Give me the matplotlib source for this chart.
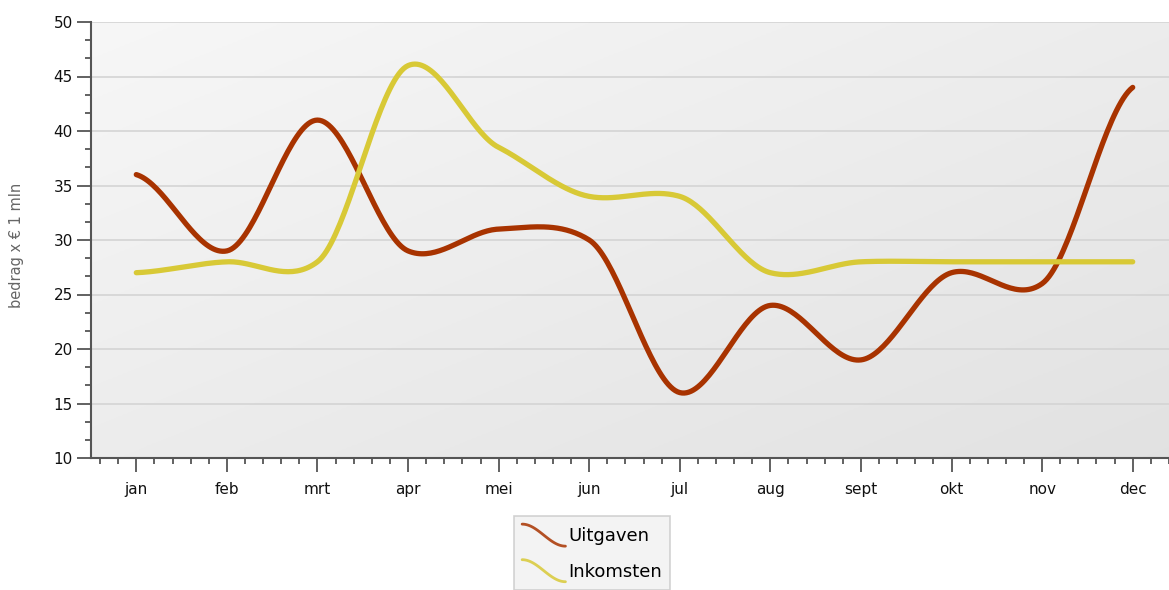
import numpy as np
import matplotlib
matplotlib.use("Agg")
import matplotlib.pyplot as plt
from matplotlib.lines import Line2D
from matplotlib.legend_handler import HandlerBase
from matplotlib.ticker import MultipleLocator

months = ["jan", "feb", "mrt", "apr", "mei", "jun", "jul", "aug", "sept", "okt", "nov", "dec"]
uitgaven = [36, 29, 41, 29, 31, 30, 16, 24, 19, 27, 26, 44]
inkomsten = [27, 28, 28, 46, 38.5, 34, 34, 27, 28, 28, 28, 28]
series_names = ["Uitgaven", "Inkomsten"]
colors = ["#a83300", "#d8c936"]
ylabel = "bedrag x \u20ac 1 mln"


def cardinal(y, n=40, k=0.7):
    y = np.asarray(y, dtype=float)
    x = np.arange(len(y), dtype=float)
    m = np.zeros_like(y)
    m[1:-1] = k * (y[2:] - y[:-2]) / 2
    m[0] = k * (y[1] - y[0]) * 0.5
    m[-1] = k * (y[-1] - y[-2]) * 0.5
    xs, ys = [], []
    for i in range(len(y) - 1):
        t = np.linspace(0, 1, n, endpoint=(i == len(y) - 2))
        h00 = 2 * t ** 3 - 3 * t ** 2 + 1
        h10 = t ** 3 - 2 * t ** 2 + t
        h01 = -2 * t ** 3 + 3 * t ** 2
        h11 = t ** 3 - t ** 2
        xs.append(x[i] + t)
        ys.append(h00 * y[i] + h10 * m[i] + h01 * y[i + 1] + h11 * m[i + 1])
    return np.concatenate(xs), np.concatenate(ys)


class WaveHandler(HandlerBase):
    def create_artists(self, legend, orig_handle, xdescent, ydescent, width, height, fontsize, trans):
        t = np.linspace(0, 1, 40)
        xs = -xdescent + t * width
        ys = -ydescent + height * (0.5 + 0.5 * np.cos(np.pi * t))
        line = Line2D(xs, ys, color=orig_handle.get_color(), lw=2.0, alpha=0.85,
                      solid_capstyle="round")
        line.set_transform(trans)
        return [line]


fig = plt.figure(figsize=(11.69, 5.90), dpi=100)
fig.patch.set_facecolor("white")
ax = fig.add_axes([91 / 1169, 1 - 458 / 590, (1178 - 91) / 1169, (458 - 22) / 590])
ax.set_facecolor("none")

# gradient background (light top-left, darker bottom-right)
gx, gy = np.meshgrid(np.linspace(0, 1, 200), np.linspace(0, 1, 200))
g = 0.5 * gx + 0.5 * gy
c0 = np.array([0.968, 0.968, 0.968])
c1 = np.array([0.885, 0.885, 0.885])
img = c0[None, None, :] + (c1 - c0)[None, None, :] * g[:, :, None]
ax.imshow(img, extent=[0, 1, 0, 1], transform=ax.transAxes, aspect="auto", zorder=0, origin="upper")

ax.set_xlim(-0.5, 11.5)
ax.set_ylim(10, 50)
ax.yaxis.set_major_locator(MultipleLocator(5))
ax.yaxis.set_minor_locator(MultipleLocator(5 / 3))
ax.set_xticks(range(len(months)))
ax.set_xticklabels(months)
ax.xaxis.set_minor_locator(MultipleLocator(0.2))

ax.grid(axis="y", which="major", color="#d4d4d4", lw=1.2, zorder=1)
ax.set_axisbelow(True)

handles = []
for vals, name, col in zip([uitgaven, inkomsten], series_names, colors):
    xs, ys = cardinal(vals)
    h, = ax.plot(xs, ys, color=col, lw=3.8, solid_capstyle="round", label=name, zorder=3)
    handles.append(h)

for s in ["top", "right"]:
    ax.spines[s].set_visible(False)
for s in ["left", "bottom"]:
    ax.spines[s].set_color("#555555")
    ax.spines[s].set_linewidth(1.5)

ax.tick_params(axis="both", which="major", length=10, width=1.3, color="#555555",
               labelsize=11, labelcolor="#111111")
ax.tick_params(axis="both", which="minor", length=4, width=1.3, color="#555555")
ax.tick_params(axis="x", pad=7)
ax.tick_params(axis="y", pad=3)

fig.text(17 / 1169, 1 - 245 / 590, ylabel, rotation=90, ha="center", va="center",
         fontsize=10.5, color="#666666")

leg = fig.legend(handles, series_names, loc="upper left",
                 bbox_to_anchor=(514 / 1169, 1 - 516 / 590),
                 handler_map={Line2D: WaveHandler()},
                 fontsize=13, frameon=True, fancybox=False, handlelength=2.4,
                 handleheight=1.5, handletextpad=0.15, borderpad=0.45,
                 labelspacing=0.75, borderaxespad=0)
leg.get_frame().set_facecolor("#f0f0f0")
leg.get_frame().set_edgecolor("#c8c8c8")
leg.get_frame().set_linewidth(1.2)

fig.savefig("out.png", dpi=100)
